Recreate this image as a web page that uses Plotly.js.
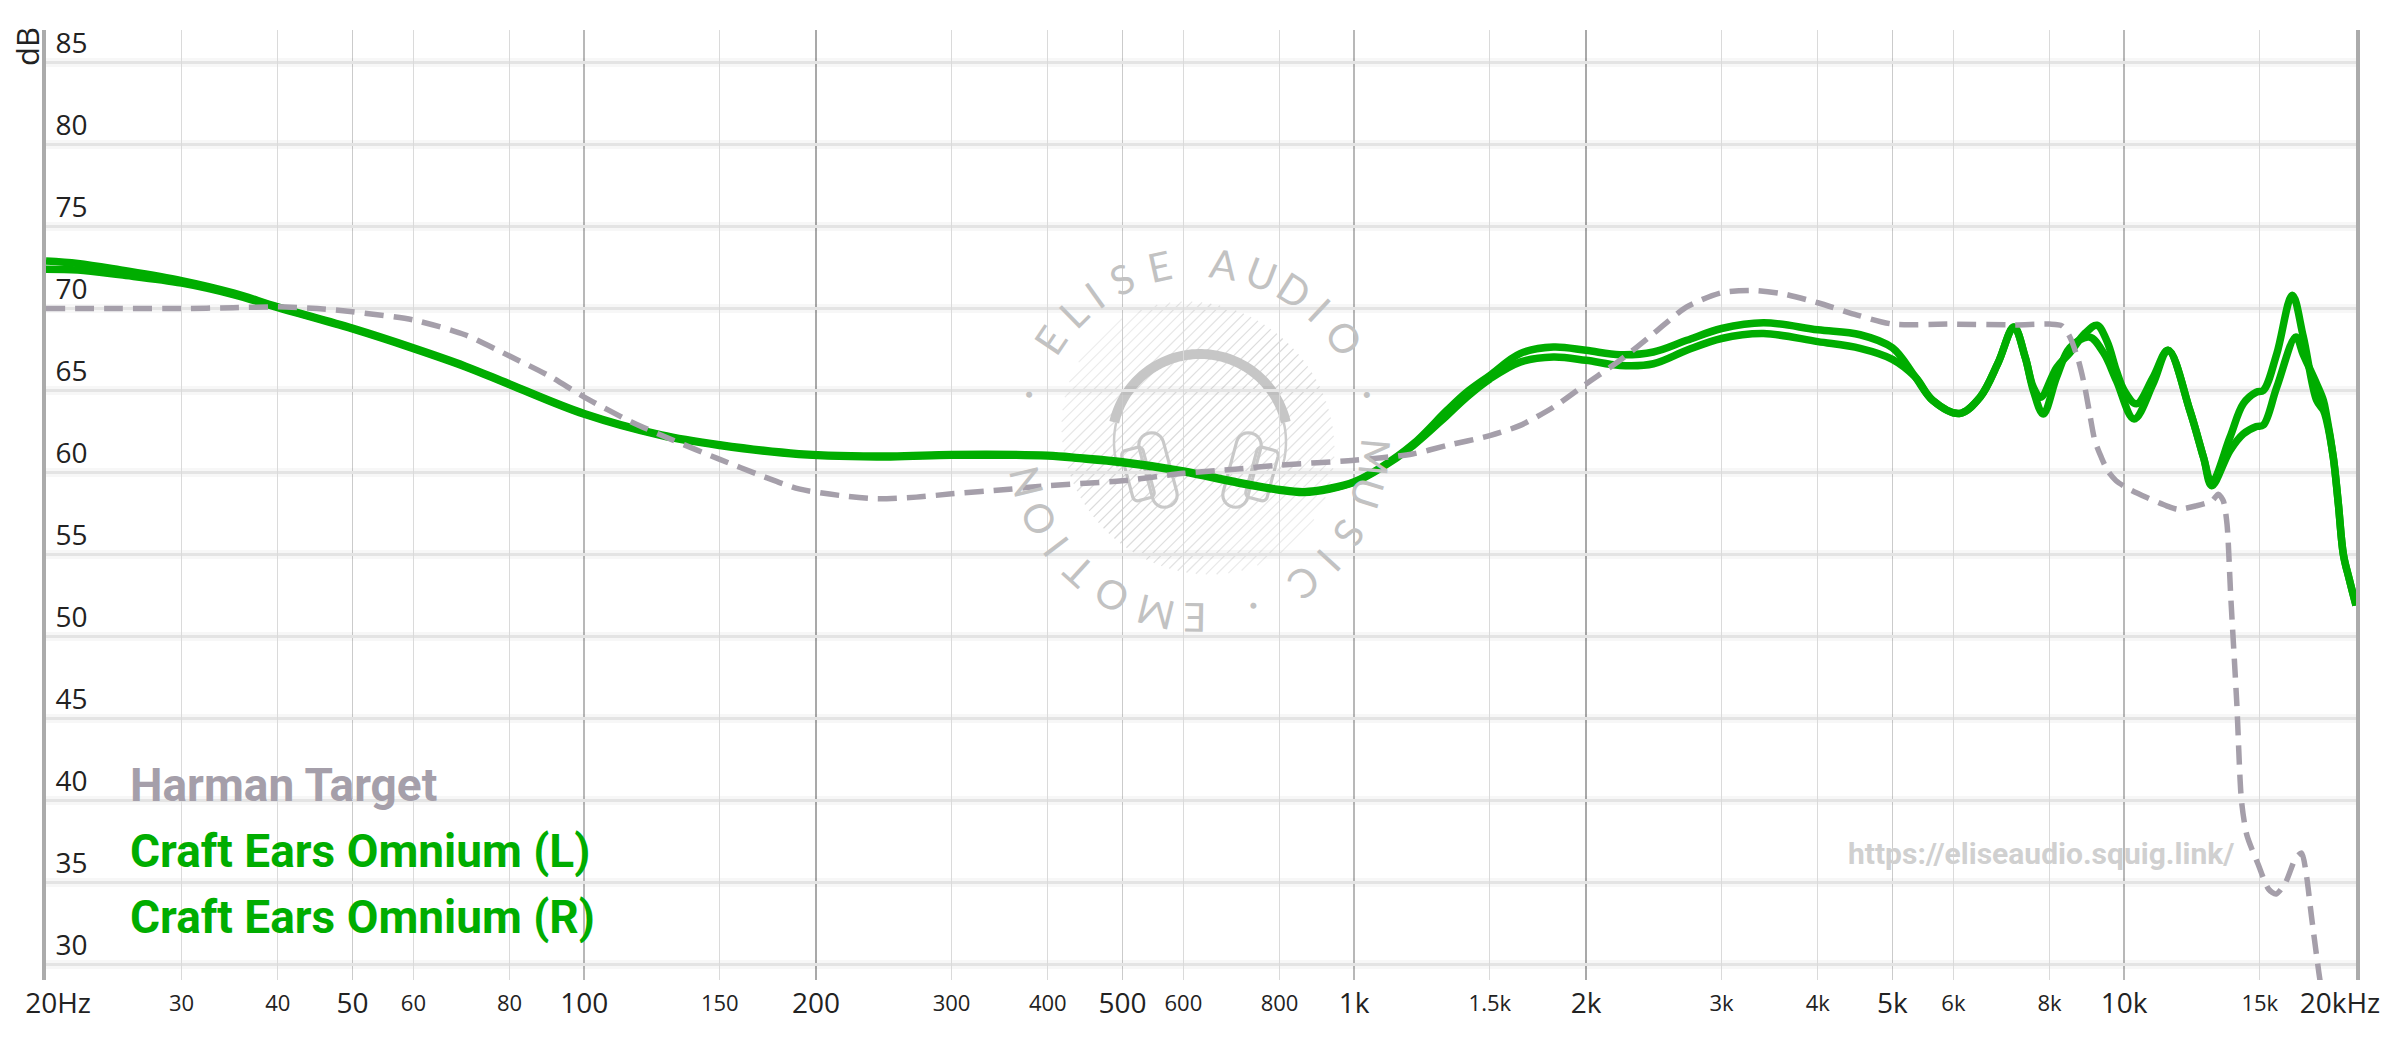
<!DOCTYPE html>
<html><head><meta charset="utf-8">
<script src="https://cdn.plot.ly/plotly-3.0.1.min.js"></script>
<style>html,body{margin:0;padding:0;background:#fff}#chart{width:2400px;height:1038px}</style>
</head><body><div id="chart"></div><script>
// ---- data ----
const seriesNames = ['Harman Target', 'Craft Ears Omnium (L)', 'Craft Ears Omnium (R)'];
const seriesColors = ['#a59faa', '#00ad00', '#00ad00'];

const harmanFreq = [20,25,30,35,40,45,50,60,70,80,90,100,115,130,150,170,190,215,240,270,300,350,400,500,600,700,800,1000,1190,1320,1500,1640,1814,2000,2214,2447,2703,3000,3300,3600,4000,4500,5000,6000,7200,8000,8300,8500,8720,8890,9020,9160,9340,9520,9760,10150,10700,11350,11750,12400,13000,13250,13450,13600,13750,14000,14200,14430,14930,15400,15750,16200,16700,17000,17250,17500,17900,18500];
const harmanDb = [70.0,70.0,70.0,70.05,70.1,70.0,69.8,69.3,68.4,67.1,65.9,64.6,63.1,62.0,60.8,59.8,59.0,58.6,58.4,58.5,58.7,58.95,59.2,59.5,59.95,60.2,60.45,60.75,61.13,61.65,62.25,62.86,63.98,65.4,66.84,68.47,70.1,70.96,71.1,70.9,70.35,69.6,69.05,69.05,69.0,69.05,68.95,68.26,66.84,65.2,63.57,61.94,60.92,60.1,59.5,58.99,58.48,57.97,57.76,57.97,58.27,58.68,58.27,56.85,52.5,46.0,40.0,37.9,36.1,34.6,34.3,35.0,36.5,36.8,35.4,33.0,29.5,25];

const omniumLFreq = [20,22,25,30,35,40,50,60,70,80,100,126,150,190,250,300,400,440,500,600,700,800,860,930,1000,1082,1193,1319,1400,1500,1642,1814,2000,2214,2447,2703,3000,3400,4000,4540,5000,5350,5640,6110,6500,6860,7190,7440,7620,7790,8170,8500,8900,9220,9500,9770,10000,10370,10900,11400,12170,12680,12990,13720,14280,14850,15160,15780,16530,17080,17780,18140,18310,18690,18970,19260,19600,20000];
const omniumLDb = [72.9,72.75,72.35,71.7,70.95,70.1,68.8,67.6,66.5,65.4,63.6,62.3,61.7,61.15,61.0,61.1,61.05,60.9,60.66,60.1,59.45,58.97,58.83,59.04,59.44,60.3,61.74,63.78,64.9,65.92,67.25,67.65,67.45,67.18,67.35,68.06,68.78,69.13,68.7,68.4,67.6,65.84,64.4,63.6,64.6,66.7,68.87,67.0,65.2,64.59,66.4,67.3,68.5,68.98,68.0,66.2,65.0,64.19,65.8,67.45,63.78,60.9,59.4,62.15,64.2,64.9,65.0,67.24,70.81,68.3,64.4,63.8,63.2,60.9,58.1,55.0,53.5,51.9];

const omniumRFreq = [20,22,25,30,35,40,50,60,70,80,100,126,150,190,250,300,400,440,500,600,700,800,860,930,1000,1082,1193,1319,1400,1500,1642,1814,2000,2214,2447,2703,3000,3400,4000,4540,5000,5350,5640,6110,6500,6860,7190,7440,7620,7850,8170,8500,9010,9400,9770,10300,10900,11400,12170,12680,12990,13720,14280,14850,15160,15780,16710,17080,17780,18140,18310,18690,18970,19260,19600,20000];
const omniumRDb = [72.4,72.35,72.05,71.55,70.85,70.05,68.75,67.55,66.45,65.35,63.55,62.25,61.65,61.1,60.95,61.05,61.0,60.85,60.6,60.05,59.4,58.92,58.78,58.99,59.4,60.25,61.65,63.47,64.6,65.7,66.73,67.04,66.84,66.53,66.63,67.45,68.17,68.47,67.98,67.57,66.9,65.84,64.4,63.6,64.6,66.7,68.87,67.0,65.0,63.57,65.82,67.6,68.26,67.3,65.6,63.27,65.4,67.45,63.78,60.9,59.2,61.33,62.35,62.8,62.9,65.2,68.26,67.2,65.4,64.4,63.5,60.9,58.1,55.0,53.5,51.9];

const majorTicks = [50,100,200,500,1000,2000,5000,10000];
const majorLabels = ['50','100','200','500','1k','2k','5k','10k'];
const minorTicks = [30,40,60,80,150,300,400,600,800,1500,3000,4000,6000,8000,15000];
const minorLabels = ['30','40','60','80','150','300','400','600','800','1.5k','3k','4k','6k','8k','15k'];
const lowEdgeTick = [20], lowEdgeLabel = ['20Hz'];
const highEdgeTick = [20000], highEdgeLabel = ['20kHz'];
const gridFives = [50,500,5000];
const gridTens = [100,1000,10000];
const gridTwos = [200,2000];
const dbTicks = [30,35,40,45,50,55,60,65,70,75,80,85];
const dbLabels = ['30','35','40','45','50','55','60','65','70','75','80','85'];
const yUnit = 'dB';
const siteUrl = 'https://eliseaudio.squig.link/';
const badgeChars  = ['E','L','I','S','E','A','U','D','I','O','·','M','U','S','I','C','·','E','M','O','T','I','O','N','·'];
const badgeAngles = [-145.9,-134.5,-125.5,-115.2,-102.4,-81.8,-69.0,-57.5,-46.8,-34.9,-15.0,5.4,17.2,31.8,42.5,53.3,71.4,90.9,103.8,119.0,132.3,142.9,153.6,166.5,195.0];

// ---- geometry helpers (pixel -> paper) ----
const W = 2400, H = 1038, ML = 46, MR = 44, MT = 30, MB = 58;
const PW = W - ML - MR, PH = H - MT - MB;
const px = x => (x - ML) / PW;
const py = y => 1 - (y - MT) / PH;
const xRange = [Math.log10(20) - 1e-9, Math.log10(20000) + 1e-9];
const yRange = [29.06, 86.98];

const traces = [
  {x: omniumRFreq, y: omniumRDb, name: seriesNames[2], mode: 'lines',
   line: {color: seriesColors[2], width: 7.5, shape: 'spline', smoothing: 1}},
  {x: omniumLFreq, y: omniumLDb, name: seriesNames[1], mode: 'lines',
   line: {color: seriesColors[1], width: 7.5, shape: 'spline', smoothing: 1}},
  {x: harmanFreq, y: harmanDb, name: seriesNames[0], mode: 'lines',
   line: {color: seriesColors[0], width: 5.5, dash: '19px,10px', shape: 'spline', smoothing: 0.7}},
  {x: [], y: [], xaxis: 'x2', showlegend: false, hoverinfo: 'skip'},
  {x: [], y: [], xaxis: 'x3', showlegend: false, hoverinfo: 'skip'},
  {x: [], y: [], xaxis: 'x4', showlegend: false, hoverinfo: 'skip'},
  {x: [], y: [], yaxis: 'y2', showlegend: false, hoverinfo: 'skip'}
];

const tickFontBig = {family: 'Open Sans', size: 28, color: '#222'};
const tickFontSmall = {family: 'Open Sans', size: 22, color: '#222'};
const baseX = {type: 'log', range: xRange, ticks: '', zeroline: false, showline: false, fixedrange: true, ticklabelstandoff: 4};

// ---- watermark shapes ----
const shapes = [];
const cx0 = 1198, cy0 = 438;
const R = 142;
for (let d = -R + 4; d < R; d += 7.5) {
  const half = Math.sqrt(R * R - d * d) * 0.92;
  const nx = d / Math.SQRT2, ny = d / Math.SQRT2;
  const ux = 1 / Math.SQRT2, uy = -1 / Math.SQRT2;
  const x1 = cx0 + nx - half * ux, y1 = cy0 + ny - half * uy;
  const x2 = cx0 + nx + half * ux, y2 = cy0 + ny + half * uy;
  const fade = 1 - Math.abs(d) / R;
  shapes.push({type: 'line', xref: 'paper', yref: 'paper', layer: 'between',
    x0: px(x1), y0: py(y1), x1: px(x2), y1: py(y2),
    line: {color: 'rgba(185,185,185,' + (0.25 + 0.3 * fade).toFixed(2) + ')', width: 1.2}});
}
function arcPath(cx, cy, r, a0, a1, step) {
  let s = '';
  for (let a = a0; (step > 0 ? a <= a1 : a >= a1); a += step) {
    const t = a * Math.PI / 180;
    s += (s ? ' L ' : 'M ') + px(cx + r * Math.cos(t)).toFixed(5) + ' ' + py(cy + r * Math.sin(t)).toFixed(5);
  }
  return s;
}
shapes.push({type: 'path', xref: 'paper', yref: 'paper', layer: 'between',
  path: arcPath(cx0 + 2, cy0 + 4, 88, -167, -13, 2), line: {color: '#c6c6c6', width: 10}});
shapes.push({type: 'path', xref: 'paper', yref: 'paper', layer: 'between',
  path: arcPath(cx0 + 2, cy0 + 4, 86, -167, -198, -3), line: {color: '#cdcdcd', width: 2.5}});
shapes.push({type: 'path', xref: 'paper', yref: 'paper', layer: 'between',
  path: arcPath(cx0 + 2, cy0 + 4, 86, -13, 18, 3), line: {color: '#cdcdcd', width: 2.5}});
function rrect(cx, cy, w, h, r, ang) {
  const pts = [];
  const corners = [[w / 2 - r, -h / 2 + r, -90, 0], [w / 2 - r, h / 2 - r, 0, 90], [-w / 2 + r, h / 2 - r, 90, 180], [-w / 2 + r, -h / 2 + r, 180, 270]];
  corners.forEach(c => { for (let a = c[2]; a <= c[3]; a += 15) { const t = a * Math.PI / 180; pts.push([c[0] + r * Math.cos(t), c[1] + r * Math.sin(t)]); } });
  const th = ang * Math.PI / 180;
  let s = '';
  pts.forEach(p => {
    const X = cx + p[0] * Math.cos(th) - p[1] * Math.sin(th);
    const Y = cy + p[0] * Math.sin(th) + p[1] * Math.cos(th);
    s += (s ? ' L ' : 'M ') + px(X).toFixed(5) + ' ' + py(Y).toFixed(5);
  });
  return s + ' Z';
}
[[-1, -15], [1, 15]].forEach(([sgn, ang]) => {
  shapes.push({type: 'path', xref: 'paper', yref: 'paper', layer: 'between',
    path: rrect(cx0 + 2 + sgn * 62, 474, 22, 52, 5, ang), line: {color: '#c9c9c9', width: 3.2}});
  shapes.push({type: 'path', xref: 'paper', yref: 'paper', layer: 'between',
    path: rrect(cx0 + 2 + sgn * 42, 470, 25, 76, 12, ang), line: {color: '#c9c9c9', width: 3.2}});
});

// ---- annotations ----
const annotations = [];
annotations.push({xref: 'paper', yref: 'paper', x: px(27), y: py(47), text: yUnit, showarrow: false,
  textangle: -90, xanchor: 'center', yanchor: 'middle', font: {family: 'Open Sans', size: 31, color: '#222'}});
const legendY = [785, 851, 917];
seriesNames.forEach((n, i) => annotations.push({xref: 'paper', yref: 'paper', x: px(128), y: py(legendY[i]),
  text: '<b>' + n + '</b>', showarrow: false, xanchor: 'left', yanchor: 'middle',
  font: {family: 'Roboto', size: 46, color: seriesColors[i]}}));
annotations.push({xref: 'paper', yref: 'paper', x: px(1846), y: py(853), text: '<b>' + siteUrl + '</b>',
  showarrow: false, xanchor: 'left', yanchor: 'middle', font: {family: 'Roboto', size: 30, color: '#d0d0d0'}});
badgeChars.forEach((c, i) => {
  const t = badgeAngles[i] * Math.PI / 180;
  annotations.push({xref: 'paper', yref: 'paper', x: px(cx0 + 178 * Math.cos(t)), y: py(cy0 + 2 + 178 * Math.sin(t)),
    text: c, showarrow: false, textangle: badgeAngles[i] + 90, xanchor: 'center', yanchor: 'middle',
    font: {family: 'Lato', size: 40, color: '#c2c2c2', weight: 400}});
});

const layout = {
  width: W, height: H, margin: {l: ML, r: MR, t: MT, b: MB, pad: 0},
  paper_bgcolor: '#fff', plot_bgcolor: '#fff', showlegend: false, hovermode: false,
  xaxis: Object.assign({}, baseX, {tickvals: majorTicks, ticktext: majorLabels, tickfont: tickFontBig,
    showgrid: false, minor: {tickvals: gridFives, showgrid: true, gridcolor: '#cbcbcb', gridwidth: 1.4, ticks: ''}}),
  xaxis2: Object.assign({}, baseX, {overlaying: 'x', anchor: 'y', tickvals: minorTicks, ticktext: minorLabels,
    tickfont: tickFontSmall, showgrid: true, gridcolor: '#dadada', gridwidth: 1.2, ticklabelstandoff: 8}),
  xaxis3: Object.assign({}, baseX, {overlaying: 'x', anchor: 'y', tickvals: lowEdgeTick, ticktext: lowEdgeLabel,
    tickfont: tickFontBig, showgrid: false, ticklabelshift: 12, range: [Math.log10(20) - 1e-4, xRange[1]],
    minor: {tickvals: gridTens, showgrid: true, gridcolor: '#b8b8b8', gridwidth: 1.7, ticks: ''}}),
  xaxis4: Object.assign({}, baseX, {overlaying: 'x', anchor: 'y', tickvals: highEdgeTick, ticktext: highEdgeLabel,
    tickfont: tickFontBig, showgrid: false, ticklabelshift: -16, range: [xRange[0], Math.log10(20000) + 1e-4],
    minor: {tickvals: gridTwos, showgrid: true, gridcolor: '#a9a9a9', gridwidth: 2.3, ticks: ''}}),
  yaxis: {range: yRange, tickvals: dbTicks, ticktext: dbLabels, ticks: '', ticklabelposition: 'inside top',
    ticklabeloverflow: 'allow', ticklabelstandoff: 10,
    tickfont: tickFontBig, showgrid: true, gridcolor: '#ececec', gridwidth: 3.5, zeroline: false,
    showline: true, linecolor: '#ababab', linewidth: 4, mirror: true, fixedrange: true},
  yaxis2: {range: yRange, overlaying: 'y', tickvals: dbTicks, showticklabels: false, ticks: '',
    showgrid: true, gridcolor: 'rgba(0,0,0,0.03)', gridwidth: 9, zeroline: false, showline: false, fixedrange: true},
  shapes: shapes, annotations: annotations
};
Plotly.newPlot('chart', traces, layout, {displayModeBar: false, staticPlot: true});
</script></body></html>
